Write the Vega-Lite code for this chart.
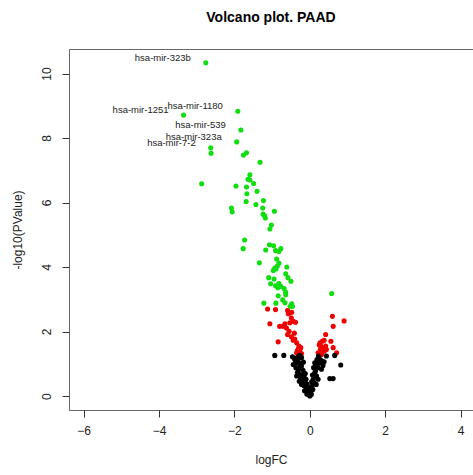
{
  "$schema": "https://vega.github.io/schema/vega-lite/v6.json",
  "width": 404,
  "height": 361,
  "autosize": "none",
  "padding": {"left": 69, "top": 49, "right": 0, "bottom": 65},
  "background": "white",
  "config": {"view": {"stroke": "#666666", "strokeWidth": 1}, "font": "Liberation Sans"},
  "title": {"text": "Volcano plot. PAAD", "fontSize": 14, "fontWeight": "bold", "font": "Liberation Sans", "offset": 24, "anchor": "middle", "color": "black"},
  "data": {"values": [
    {"logFC": -2.76, "negLogP": 10.33, "group": "fdr", "label": "hsa-mir-323b"},
    {"logFC": -1.91, "negLogP": 8.83, "group": "fdr", "label": "hsa-mir-1180"},
    {"logFC": -3.35, "negLogP": 8.71, "group": "fdr", "label": "hsa-mir-1251"},
    {"logFC": -1.83, "negLogP": 8.25, "group": "fdr", "label": "hsa-mir-539"},
    {"logFC": -1.94, "negLogP": 7.88, "group": "fdr", "label": "hsa-mir-323a"},
    {"logFC": -2.63, "negLogP": 7.70, "group": "fdr", "label": "hsa-mir-7-2"},
    {"logFC": -2.62, "negLogP": 7.53, "group": "fdr"},
    {"logFC": -1.76, "negLogP": 7.47, "group": "fdr"},
    {"logFC": -1.68, "negLogP": 7.54, "group": "fdr"},
    {"logFC": -1.32, "negLogP": 7.25, "group": "fdr"},
    {"logFC": -1.59, "negLogP": 6.86, "group": "fdr"},
    {"logFC": -1.64, "negLogP": 6.72, "group": "fdr"},
    {"logFC": -1.59, "negLogP": 6.70, "group": "fdr"},
    {"logFC": -2.87, "negLogP": 6.58, "group": "fdr"},
    {"logFC": -1.49, "negLogP": 6.59, "group": "fdr"},
    {"logFC": -1.96, "negLogP": 6.51, "group": "fdr"},
    {"logFC": -1.68, "negLogP": 6.48, "group": "fdr"},
    {"logFC": -1.40, "negLogP": 6.35, "group": "fdr"},
    {"logFC": -1.67, "negLogP": 6.27, "group": "fdr"},
    {"logFC": -1.23, "negLogP": 6.06, "group": "fdr"},
    {"logFC": -1.69, "negLogP": 6.03, "group": "fdr"},
    {"logFC": -1.43, "negLogP": 5.94, "group": "fdr"},
    {"logFC": -2.08, "negLogP": 5.83, "group": "fdr"},
    {"logFC": -2.06, "negLogP": 5.71, "group": "fdr"},
    {"logFC": -1.25, "negLogP": 5.83, "group": "fdr"},
    {"logFC": -1.24, "negLogP": 5.64, "group": "fdr"},
    {"logFC": -1.20, "negLogP": 5.59, "group": "fdr"},
    {"logFC": -1.18, "negLogP": 5.52, "group": "fdr"},
    {"logFC": -0.94, "negLogP": 5.73, "group": "fdr"},
    {"logFC": -1.02, "negLogP": 5.30, "group": "fdr"},
    {"logFC": -1.06, "negLogP": 5.18, "group": "fdr"},
    {"logFC": -1.73, "negLogP": 4.84, "group": "fdr"},
    {"logFC": -1.77, "negLogP": 4.57, "group": "fdr"},
    {"logFC": -1.07, "negLogP": 4.69, "group": "fdr"},
    {"logFC": -0.96, "negLogP": 4.66, "group": "fdr"},
    {"logFC": -1.17, "negLogP": 4.53, "group": "fdr"},
    {"logFC": -0.91, "negLogP": 4.51, "group": "fdr"},
    {"logFC": -0.77, "negLogP": 4.57, "group": "fdr"},
    {"logFC": -0.82, "negLogP": 4.48, "group": "fdr"},
    {"logFC": -1.34, "negLogP": 4.13, "group": "fdr"},
    {"logFC": -0.88, "negLogP": 4.25, "group": "fdr"},
    {"logFC": -0.82, "negLogP": 4.12, "group": "fdr"},
    {"logFC": -0.86, "negLogP": 4.03, "group": "fdr"},
    {"logFC": -0.93, "negLogP": 3.97, "group": "fdr"},
    {"logFC": -0.97, "negLogP": 3.89, "group": "fdr"},
    {"logFC": -0.90, "negLogP": 3.94, "group": "fdr"},
    {"logFC": -0.61, "negLogP": 4.00, "group": "fdr"},
    {"logFC": -0.64, "negLogP": 3.79, "group": "fdr"},
    {"logFC": -0.58, "negLogP": 3.67, "group": "fdr"},
    {"logFC": -0.50, "negLogP": 3.56, "group": "fdr"},
    {"logFC": -1.09, "negLogP": 3.67, "group": "fdr"},
    {"logFC": -0.95, "negLogP": 3.63, "group": "fdr"},
    {"logFC": -1.04, "negLogP": 3.48, "group": "fdr"},
    {"logFC": -0.91, "negLogP": 3.42, "group": "fdr"},
    {"logFC": -0.82, "negLogP": 3.49, "group": "fdr"},
    {"logFC": -0.77, "negLogP": 3.40, "group": "fdr"},
    {"logFC": -0.85, "negLogP": 3.36, "group": "fdr"},
    {"logFC": -0.68, "negLogP": 3.33, "group": "fdr"},
    {"logFC": -0.64, "negLogP": 3.22, "group": "fdr"},
    {"logFC": -0.64, "negLogP": 3.14, "group": "fdr"},
    {"logFC": -0.84, "negLogP": 3.11, "group": "fdr"},
    {"logFC": -0.72, "negLogP": 2.98, "group": "fdr"},
    {"logFC": -0.66, "negLogP": 2.89, "group": "fdr"},
    {"logFC": -0.48, "negLogP": 2.86, "group": "fdr"},
    {"logFC": -0.46, "negLogP": 2.78, "group": "fdr"},
    {"logFC": -0.52, "negLogP": 2.78, "group": "fdr"},
    {"logFC": -1.22, "negLogP": 2.88, "group": "fdr"},
    {"logFC": -0.90, "negLogP": 2.88, "group": "fdr"},
    {"logFC": 0.58, "negLogP": 3.18, "group": "fdr"},
    {"logFC": -1.12, "negLogP": 2.70, "group": "p"},
    {"logFC": -0.91, "negLogP": 2.68, "group": "p"},
    {"logFC": -0.59, "negLogP": 2.65, "group": "p"},
    {"logFC": -0.53, "negLogP": 2.58, "group": "p"},
    {"logFC": -0.48, "negLogP": 2.60, "group": "p"},
    {"logFC": -0.57, "negLogP": 2.55, "group": "p"},
    {"logFC": -0.49, "negLogP": 2.42, "group": "p"},
    {"logFC": -0.44, "negLogP": 2.32, "group": "p"},
    {"logFC": -0.38, "negLogP": 2.29, "group": "p"},
    {"logFC": -0.53, "negLogP": 2.27, "group": "p"},
    {"logFC": -0.66, "negLogP": 2.24, "group": "p"},
    {"logFC": -0.71, "negLogP": 2.16, "group": "p"},
    {"logFC": -0.80, "negLogP": 2.16, "group": "p"},
    {"logFC": -0.62, "negLogP": 2.11, "group": "p"},
    {"logFC": -0.55, "negLogP": 2.01, "group": "p"},
    {"logFC": -0.59, "negLogP": 1.91, "group": "p"},
    {"logFC": -0.49, "negLogP": 1.84, "group": "p"},
    {"logFC": -0.44, "negLogP": 1.73, "group": "p"},
    {"logFC": -0.40, "negLogP": 1.77, "group": "p"},
    {"logFC": -0.35, "negLogP": 1.65, "group": "p"},
    {"logFC": -0.29, "negLogP": 1.55, "group": "p"},
    {"logFC": -0.24, "negLogP": 1.50, "group": "p"},
    {"logFC": -0.33, "negLogP": 1.41, "group": "p"},
    {"logFC": -0.27, "negLogP": 1.41, "group": "p"},
    {"logFC": -0.35, "negLogP": 1.34, "group": "p"},
    {"logFC": -0.22, "negLogP": 1.32, "group": "p"},
    {"logFC": -0.30, "negLogP": 1.47, "group": "p"},
    {"logFC": -0.41, "negLogP": 1.95, "group": "p"},
    {"logFC": -1.06, "negLogP": 2.24, "group": "p"},
    {"logFC": -0.84, "negLogP": 1.68, "group": "p"},
    {"logFC": 0.60, "negLogP": 2.47, "group": "p"},
    {"logFC": 0.91, "negLogP": 2.33, "group": "p"},
    {"logFC": 0.62, "negLogP": 2.16, "group": "p"},
    {"logFC": 0.42, "negLogP": 1.91, "group": "p"},
    {"logFC": 0.33, "negLogP": 1.70, "group": "p"},
    {"logFC": 0.27, "negLogP": 1.65, "group": "p"},
    {"logFC": 0.38, "negLogP": 1.73, "group": "p"},
    {"logFC": 0.56, "negLogP": 1.70, "group": "p"},
    {"logFC": 0.29, "negLogP": 1.55, "group": "p"},
    {"logFC": 0.35, "negLogP": 1.50, "group": "p"},
    {"logFC": 0.42, "negLogP": 1.55, "group": "p"},
    {"logFC": 0.28, "negLogP": 1.44, "group": "p"},
    {"logFC": 0.38, "negLogP": 1.39, "group": "p"},
    {"logFC": 0.44, "negLogP": 1.44, "group": "p"},
    {"logFC": 0.62, "negLogP": 1.50, "group": "p"},
    {"logFC": 0.71, "negLogP": 1.34, "group": "p"},
    {"logFC": 0.31, "negLogP": 1.29, "group": "p"},
    {"logFC": 0.22, "negLogP": 1.34, "group": "p"},
    {"logFC": 0.25, "negLogP": 1.58, "group": "p"},
    {"logFC": -0.93, "negLogP": 1.26, "group": "ns"},
    {"logFC": -0.69, "negLogP": 1.26, "group": "ns"},
    {"logFC": 0.23, "negLogP": 1.24, "group": "ns"},
    {"logFC": 0.44, "negLogP": 1.24, "group": "ns"},
    {"logFC": 0.66, "negLogP": 1.26, "group": "ns"},
    {"logFC": 0.82, "negLogP": 0.96, "group": "ns"},
    {"logFC": 0.53, "negLogP": 0.54, "group": "ns"},
    {"logFC": 0.62, "negLogP": 0.54, "group": "ns"},
    {"logFC": -0.44, "negLogP": 0.98, "group": "ns"},
    {"logFC": -0.40, "negLogP": 1.13, "group": "ns"},
    {"logFC": -0.35, "negLogP": 1.03, "group": "ns"},
    {"logFC": -0.31, "negLogP": 1.08, "group": "ns"},
    {"logFC": -0.46, "negLogP": 1.22, "group": "ns"},
    {"logFC": -0.31, "negLogP": 1.22, "group": "ns"},
    {"logFC": -0.22, "negLogP": 1.19, "group": "ns"},
    {"logFC": -0.26, "negLogP": 1.26, "group": "ns"},
    {"logFC": -0.37, "negLogP": 0.88, "group": "ns"},
    {"logFC": -0.22, "negLogP": 0.93, "group": "ns"},
    {"logFC": -0.27, "negLogP": 1.00, "group": "ns"},
    {"logFC": -0.31, "negLogP": 0.77, "group": "ns"},
    {"logFC": -0.27, "negLogP": 0.67, "group": "ns"},
    {"logFC": -0.35, "negLogP": 0.62, "group": "ns"},
    {"logFC": -0.33, "negLogP": 0.72, "group": "ns"},
    {"logFC": -0.25, "negLogP": 0.57, "group": "ns"},
    {"logFC": -0.28, "negLogP": 0.46, "group": "ns"},
    {"logFC": -0.19, "negLogP": 0.46, "group": "ns"},
    {"logFC": -0.13, "negLogP": 0.41, "group": "ns"},
    {"logFC": -0.16, "negLogP": 0.33, "group": "ns"},
    {"logFC": -0.09, "negLogP": 0.21, "group": "ns"},
    {"logFC": -0.04, "negLogP": 0.10, "group": "ns"},
    {"logFC": 0.00, "negLogP": 0.00, "group": "ns"},
    {"logFC": -0.11, "negLogP": 0.29, "group": "ns"},
    {"logFC": -0.22, "negLogP": 0.36, "group": "ns"},
    {"logFC": -0.18, "negLogP": 0.80, "group": "ns"},
    {"logFC": -0.20, "negLogP": 0.66, "group": "ns"},
    {"logFC": -0.10, "negLogP": 0.52, "group": "ns"},
    {"logFC": -0.06, "negLogP": 0.24, "group": "ns"},
    {"logFC": -0.23, "negLogP": 0.52, "group": "ns"},
    {"logFC": -0.15, "negLogP": 0.58, "group": "ns"},
    {"logFC": -0.14, "negLogP": 0.16, "group": "ns"},
    {"logFC": -0.07, "negLogP": 0.37, "group": "ns"},
    {"logFC": -0.02, "negLogP": 0.18, "group": "ns"},
    {"logFC": -0.12, "negLogP": 0.70, "group": "ns"},
    {"logFC": -0.29, "negLogP": 0.86, "group": "ns"},
    {"logFC": -0.17, "negLogP": 1.05, "group": "ns"},
    {"logFC": -0.38, "negLogP": 1.17, "group": "ns"},
    {"logFC": -0.08, "negLogP": 0.06, "group": "ns"},
    {"logFC": 0.19, "negLogP": 1.13, "group": "ns"},
    {"logFC": 0.31, "negLogP": 1.10, "group": "ns"},
    {"logFC": 0.38, "negLogP": 1.06, "group": "ns"},
    {"logFC": 0.13, "negLogP": 1.03, "group": "ns"},
    {"logFC": 0.27, "negLogP": 1.03, "group": "ns"},
    {"logFC": 0.16, "negLogP": 0.93, "group": "ns"},
    {"logFC": 0.22, "negLogP": 0.88, "group": "ns"},
    {"logFC": 0.31, "negLogP": 0.83, "group": "ns"},
    {"logFC": 0.13, "negLogP": 0.72, "group": "ns"},
    {"logFC": 0.18, "negLogP": 0.62, "group": "ns"},
    {"logFC": 0.09, "negLogP": 0.52, "group": "ns"},
    {"logFC": 0.11, "negLogP": 0.41, "group": "ns"},
    {"logFC": 0.06, "negLogP": 0.31, "group": "ns"},
    {"logFC": 0.03, "negLogP": 0.15, "group": "ns"},
    {"logFC": 0.04, "negLogP": 0.05, "group": "ns"},
    {"logFC": -0.03, "negLogP": 0.05, "group": "ns"},
    {"logFC": 0.22, "negLogP": 0.52, "group": "ns"},
    {"logFC": 0.08, "negLogP": 0.20, "group": "ns"},
    {"logFC": 0.15, "negLogP": 0.78, "group": "ns"},
    {"logFC": 0.25, "negLogP": 1.18, "group": "ns"},
    {"logFC": 0.10, "negLogP": 0.88, "group": "ns"},
    {"logFC": 0.20, "negLogP": 0.98, "group": "ns"},
    {"logFC": 0.05, "negLogP": 0.44, "group": "ns"},
    {"logFC": 0.14, "negLogP": 0.60, "group": "ns"},
    {"logFC": 0.07, "negLogP": 0.65, "group": "ns"},
    {"logFC": 0.02, "negLogP": 0.27, "group": "ns"},
    {"logFC": 0.17, "negLogP": 0.36, "group": "ns"},
    {"logFC": 0.35, "negLogP": 0.95, "group": "ns"},
    {"logFC": 0.01, "negLogP": 0.10, "group": "ns"}
  ]},
  "layer": [
    {
      "mark": {"type": "point", "filled": true, "size": 26, "opacity": 1},
      "encoding": {
        "x": {"field": "logFC", "type": "quantitative", "scale": {"domain": [-6.39, 4.33], "nice": false, "zero": false},
          "axis": {"values": [-6, -4, -2, 0, 2, 4], "grid": false, "domain": false, "tickSize": 7, "tickColor": "#333333", "labelFontSize": 12, "labelColor": "#222222", "labelPadding": 8, "labelFont": "Liberation Sans", "title": "logFC", "titleFont": "Liberation Sans", "titleFontSize": 12, "titleFontWeight": "normal", "titleColor": "#222222", "titlePadding": 18}},
        "y": {"field": "negLogP", "type": "quantitative", "scale": {"domain": [-0.433, 10.76], "nice": false, "zero": false},
          "axis": {"values": [0, 2, 4, 6, 8, 10], "grid": false, "domain": false, "tickSize": 7, "tickColor": "#333333", "labelFontSize": 12, "labelColor": "#222222", "labelAngle": -90, "labelAlign": "center", "labelBaseline": "alphabetic", "labelPadding": 12, "labelFont": "Liberation Sans", "title": "-log10(PValue)", "titleFont": "Liberation Sans", "titleFontSize": 12, "titleFontWeight": "normal", "titleColor": "#222222", "titlePadding": 16}},
        "color": {"field": "group", "type": "nominal", "scale": {"domain": ["ns", "p", "fdr"], "range": ["#000000", "#ee0000", "#11dd11"]}, "legend": null}
      }
    },
    {
      "transform": [{"filter": "datum.label"}],
      "mark": {"type": "text", "align": "right", "baseline": "middle", "dx": -15, "dy": -5, "fontSize": 9.5, "font": "Liberation Sans", "color": "#222222"},
      "encoding": {
        "x": {"field": "logFC", "type": "quantitative"},
        "y": {"field": "negLogP", "type": "quantitative"},
        "text": {"field": "label"}
      }
    }
  ]
}
